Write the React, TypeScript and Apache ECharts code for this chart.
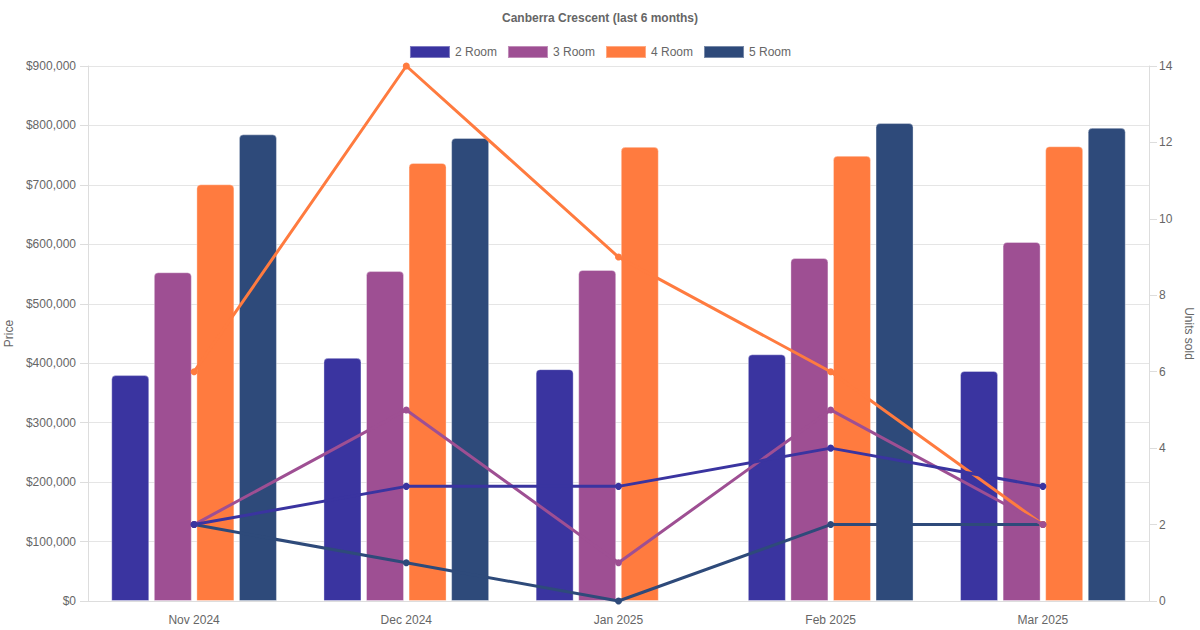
import * as echarts from "echarts";
import { useEffect, useRef } from "react";

const months = ["Nov 2024", "Dec 2024", "Jan 2025", "Feb 2025", "Mar 2025"];
const rooms = ["2 Room", "3 Room", "4 Room", "5 Room"];
const colors = ["#3A34A0", "#9E4F93", "#FF7B3F", "#2E4A7A"];

// average price per room type
const price2 = [380000, 409000, 390000, 415000, 387000];
const price3 = [553000, 555000, 557000, 577000, 604000];
const price4 = [701000, 737000, 764000, 749000, 765000];
const price5 = [785000, 779000, null, 804000, 796000];

// units sold per room type
const units2 = [2, 3, 3, 4, 3];
const units3 = [2, 5, 1, 5, 2];
const units4 = [6, 14, 9, 6, 2];
const units5 = [2, 1, 0, 2, 2];

const prices = [price2, price3, price4, price5];
const units = [units2, units3, units4, units5];

const font = "'Liberation Sans', Arial, sans-serif";

export default function App() {
  const ref = useRef<HTMLDivElement>(null);

  useEffect(() => {
    if (!ref.current) return;
    document.body.style.margin = "0";
    const chart = echarts.init(ref.current, null, { renderer: "svg" });

    chart.setOption({
      animation: false,
      textStyle: { fontFamily: font },
      title: {
        text: "Canberra Crescent (last 6 months)",
        left: "center",
        top: 7,
        textStyle: { fontSize: 12, fontWeight: "bold", color: "#666", fontFamily: font }
      },
      legend: {
        top: 40,
        left: "center",
        itemWidth: 40,
        itemHeight: 12,
        itemGap: 10,
        textStyle: { color: "#666", fontSize: 12 },
        data: rooms.map((r) => ({ name: r, icon: "rect" }))
      },
      grid: {
        left: 88,
        right: 51,
        top: 66,
        bottom: 29,
        containLabel: false,
        outerBoundsMode: "none"
      },
      xAxis: {
        type: "category",
        data: months,
        axisLine: { lineStyle: { color: "#ddd" } },
        axisTick: { show: false },
        axisLabel: { color: "#666", fontSize: 12, margin: 13 }
      },
      yAxis: [
        {
          type: "value",
          name: "Price",
          nameLocation: "middle",
          nameGap: 71,
          nameTextStyle: { color: "#666", fontSize: 12 },
          min: 0,
          max: 900000,
          interval: 100000,
          axisLine: { show: true, lineStyle: { color: "#ddd" } },
          axisTick: { show: true, length: 8, lineStyle: { color: "#ddd" } },
          splitLine: { lineStyle: { color: "#e5e5e5" } },
          axisLabel: {
            color: "#666",
            fontSize: 12,
            margin: 12,
            formatter: (v: number) => "$" + v.toLocaleString("en-US")
          }
        },
        {
          type: "value",
          name: "Units sold",
          nameLocation: "middle",
          nameGap: 33,
          nameRotate: -90,
          nameTextStyle: { color: "#666", fontSize: 12 },
          min: 0,
          max: 14,
          interval: 2,
          axisLine: { show: true, lineStyle: { color: "#ddd" } },
          axisTick: { show: true, length: 8, lineStyle: { color: "#ddd" } },
          splitLine: { show: false },
          axisLabel: { color: "#666", fontSize: 12, margin: 10 }
        }
      ],
      series: [
        ...rooms.map((r, i) => ({
          name: r,
          type: "bar",
          z: 2,
          barWidth: 38,
          barGap: "12%",
          data: prices[i],
          itemStyle: {
            color: colors[i],
            borderRadius: [4, 4, 0, 0],
            borderWidth: 1,
            borderColor: "rgba(255,255,255,0.35)"
          }
        })),
        // first room type drawn on top, as in the reference
        ...rooms.map((r, i) => ({
          name: r,
          type: "line",
          yAxisIndex: 1,
          z: 10 - i,
          data: units[i],
          symbol: "circle",
          symbolSize: 7,
          lineStyle: { width: 3, color: colors[i] },
          itemStyle: { color: colors[i] }
        }))
      ]
    });

    return () => chart.dispose();
  }, []);

  return <div ref={ref} style={{ width: 1200, height: 630 }} />;
}
